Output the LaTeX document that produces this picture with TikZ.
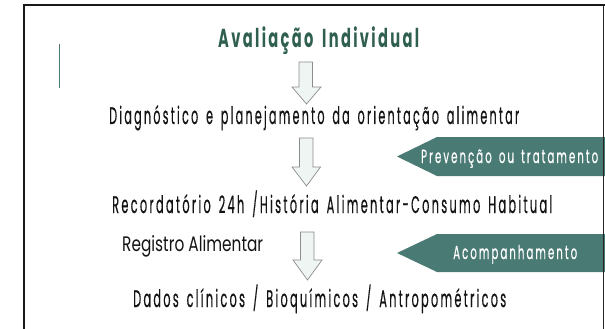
\documentclass[tikz,border=0pt]{standalone}
\usepackage{fontspec}
\usepackage{graphicx}
\setmainfont{Poppins}
\newfontfamily\trackf[LetterSpace=20,WordSpace=1.5,FakeBold=0.6]{Poppins}
\newfontfamily\titlef[LetterSpace=16,WordSpace=1.6]{Poppins}
\newcommand\fitw[2]{\resizebox{#1}{\height}{#2}}
\definecolor{titlegreen}{HTML}{2F5F4E}
\definecolor{bannerteal}{HTML}{4A7A74}
\definecolor{linecol}{HTML}{4A7A72}
\definecolor{arrowfill}{HTML}{EEF5F2}
\definecolor{arrowdraw}{HTML}{8C8C8C}
\definecolor{bodytext}{HTML}{141414}
\tikzset{
  txt/.style={inner sep=0pt, anchor=base west, text=bodytext},
  bannertxt/.style={inner sep=0pt, anchor=base west, text=white},
  blockarrow/.style={fill=arrowfill, draw=arrowdraw, line width=0.7pt, line join=miter},
  banner/.style={fill=bannerteal},
  frameline/.style={draw=black!90, line width=2pt}
}
\begin{document}
\begin{tikzpicture}[x=1pt,y=-1pt]
\useasboundingbox (0,0) rectangle (605,329);
% frame
\draw[frameline] (24,329) -- (24,5.5) -- (605,5.5);
\draw[linecol, line width=1pt] (59.5,44) -- (59.5,88);
% texts
\node[txt, text=titlegreen] (title) at (218,48) {\fitw{201pt}{\fontsize{26}{30}\titlef\bfseries Avaliação Individual}};
\node[txt] (diag) at (109,124) {\fitw{410pt}{\fontsize{24}{28}\trackf Diagnóstico e planejamento da orientação alimentar}};
\node[txt] (rec) at (112,213) {\fitw{440pt}{\fontsize{24}{28}\trackf Recordatório 24h /História Alimentar-Consumo Habitual}};
\node[txt] (reg) at (122,251) {\fitw{141pt}{\fontsize{21}{25}\selectfont Registro Alimentar}};
\node[txt] (dados) at (133,307) {\fitw{373pt}{\fontsize{24}{28}\trackf Dados clínicos / Bioquímicos / Antropométricos}};
% block arrows
\filldraw[blockarrow] (299,62) -- (312.5,62) -- (312.5,87) -- (321,87) -- (306.5,104) -- (292,87) -- (299,87) -- cycle;
\filldraw[blockarrow] (299.5,138) -- (313,138) -- (313,167) -- (320.5,167) -- (306.5,186) -- (292,167) -- (299.5,167) -- cycle;
\filldraw[blockarrow] (300.5,232) -- (314,232) -- (314,260) -- (322,260) -- (307.5,280) -- (293,260) -- (300.5,260) -- cycle;
% banners
\fill[banner] (397,156.5) -- (437,137) -- (605,137) -- (605,176) -- (437,176) -- cycle;
\fill[banner] (397,253) -- (437,234) -- (605,234) -- (605,272) -- (437,272) -- cycle;
\node[bannertxt] (prev) at (421,163) {\fitw{177pt}{\fontsize{19}{22}\trackf Prevenção ou tratamento}};
\node[bannertxt] (acomp) at (453,259) {\fitw{124pt}{\fontsize{19}{22}\trackf Acompanhamento}};
% right frame line
\draw[black!85, line width=1pt] (603.5,5) -- (603.5,329);
\end{tikzpicture}
\end{document}
